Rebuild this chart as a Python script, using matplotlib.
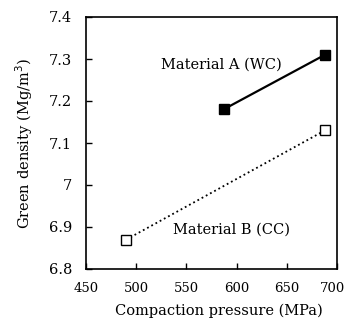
import matplotlib.pyplot as plt
from matplotlib.transforms import ScaledTranslation

pressure_a = [587, 688]
density_a = [7.18, 7.31]
pressure_b = [490, 688]
density_b = [6.87, 7.13]

x_ticks = [450, 500, 550, 600, 650, 700]
y_ticks = [6.8, 6.9, 7.0, 7.1, 7.2, 7.3, 7.4]
y_labels = ["6.8", "6.9", "7", "7.1", "7.2", "7.3", "7.4"]

plt.rcParams["font.family"] = "DejaVu Serif"
plt.rcParams["font.size"] = 10.5

W, H = 348, 323
fig = plt.figure(figsize=(W / 100, H / 100), dpi=100)
ax = fig.add_axes([86 / W, 1 - 269 / H, (337 - 86) / W, (269 - 17) / H])

ax.plot(pressure_a, density_a, "-", color="black", lw=1.6,
        marker="s", ms=7.5, mfc="black", mec="black")
ax.plot(pressure_b, density_b, ":", color="black", lw=1.3,
        marker="s", ms=7.5, mfc="white", mec="black", mew=1)

# labels placed in figure pixel coords (from top-left)
ax.text(221 / W, 1 - 65 / H, "Material A (WC)", transform=fig.transFigure,
        ha="center", va="center")
ax.text(231 / W, 1 - 230 / H, "Material B (CC)", transform=fig.transFigure,
        ha="center", va="center")

ax.set_xlim(450, 700)
ax.set_ylim(6.8, 7.4)
ax.set_xticks(x_ticks)
ax.set_yticks(y_ticks)
ax.set_yticklabels(y_labels)
ax.tick_params(direction="in", length=4, width=1, top=False, right=False)
ax.tick_params(axis="y", pad=10)
ax.tick_params(axis="x", pad=9, labelsize=9.5)
for s in ax.spines.values():
    s.set_linewidth(1.2)

# nudge the last x label so it stays inside the canvas
last = ax.get_xticklabels()[-1]
last.set_transform(last.get_transform() + ScaledTranslation(-3 / 72, 0, fig.dpi_scale_trans))

ax.set_xlabel("Compaction pressure (MPa)")
ax.xaxis.set_label_coords((219 - 86) / (337 - 86), -(304 - 269) / (269 - 17))
ax.set_ylabel("Green density (Mg/m$^3$)", labelpad=10)

fig.savefig("out.png", dpi=100)
